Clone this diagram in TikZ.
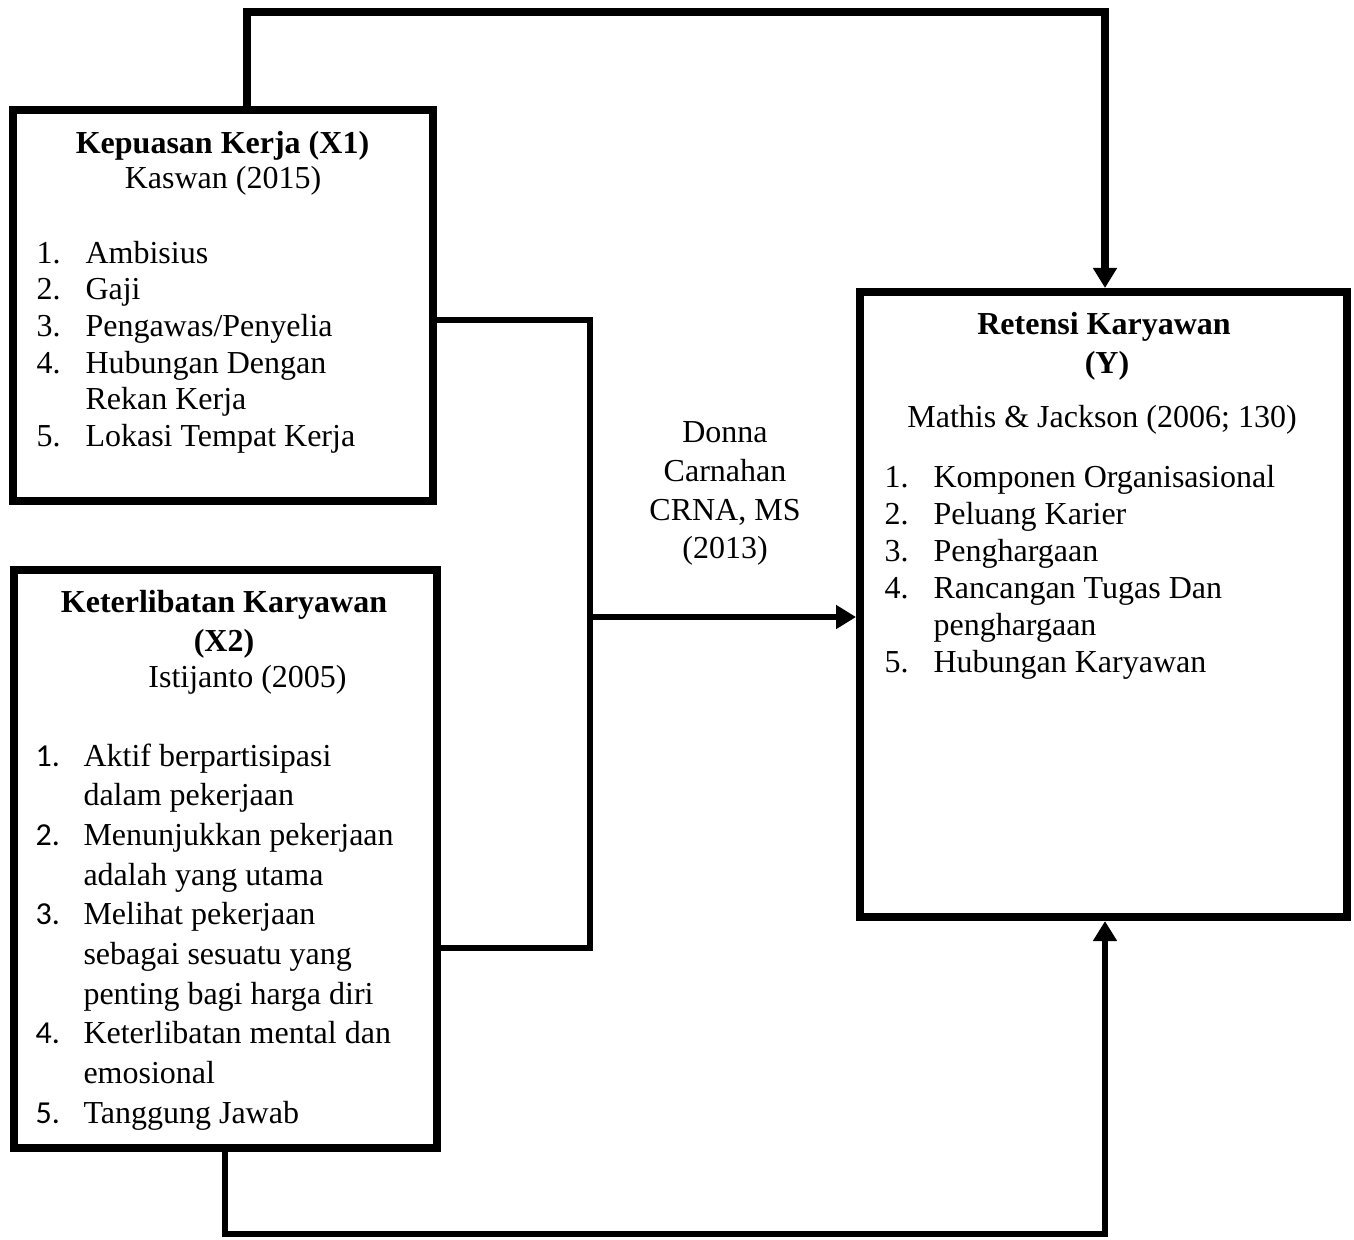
\documentclass[tikz,border=0pt]{standalone}
\usepackage{fontspec}
\setmainfont{Liberation Serif}
\newfontfamily\calibri{Carlito}
\usetikzlibrary{arrows.meta}
\begin{document}
\begin{tikzpicture}[x=0.375pt,y=-0.375pt,
  box/.style={draw, line width=3pt, inner sep=0pt},
  conn/.style={draw, line width=#1, line join=miter},
  tip/.style={-{Triangle[length=7.5pt,width=8.6pt]}},
  t/.style={inner sep=0pt, anchor=base, font=\fontsize{12}{13.8}\selectfont},
  tl/.style={t, anchor=base west},
  tb/.style={t, font=\fontsize{12}{13.8}\selectfont\bfseries},
  nc/.style={tl, font=\fontsize{12}{13.8}\selectfont\calibri}
]
\useasboundingbox[fill=white] (0,0) rectangle (1354,1239);

% boxes
\node[box, minimum width=157.5pt, minimum height=146.6pt] (x1) at (223,305.5) {};
\node[box, minimum width=158.6pt, minimum height=216.75pt] (x2) at (225.5,859) {};
\node[box, minimum width=182.6pt, minimum height=234.4pt] (y) at (1103.5,604.5) {};

% helper coordinates
\coordinate (t1) at (247,12);
\coordinate (t2) at (1105,12);
\coordinate (m1) at (590,320);
\coordinate (m2) at (590,948);
\coordinate (m3) at (590,617);
\coordinate (b1) at (225,1234);
\coordinate (b2) at (1105,1234);

% connectors
\draw[conn=3pt, tip] (x1.north -| t1) -- (t1) -- (t2) -- (y.north -| t2);
\draw[conn=2.6pt] ([xshift=-2pt]x1.east |- m1) -- (m1) -- (m2) -- (x2.east |- m2);
\draw[conn=2.6pt, tip] (m3) -- (y.west |- m3);
\draw[conn=2.4pt, tip] (x2.south -| b1) -- (b1) -- (b2) -- (y.south -| b2);

% X1 text
\node[tb] (x1h) at (222.5,153) {Kepuasan Kerja (X1)};
\node[t] (x1s) at (223,188) {Kaswan (2015)};
\node[tl] (x1n1) at (36,263) {1.};
\node[tl] (x1i1) at (85,263) {Ambisius};
\node[tl] (x1n2) at (36,299.7) {2.};
\node[tl] (x1i2) at (85,299.7) {Gaji};
\node[tl] (x1n3) at (36,336.4) {3.};
\node[tl] (x1i3) at (85,336.4) {Pengawas/Penyelia};
\node[tl] (x1n4) at (36,373.1) {4.};
\node[tl] (x1i4) at (85,373.1) {Hubungan Dengan};
\node[tl] (x1i4b) at (85,409.8) {Rekan Kerja};
\node[tl] (x1n5) at (36,446.5) {5.};
\node[tl] (x1i5) at (85,446.5) {Lokasi Tempat Kerja};

% X2 text
\node[tb] (x2h) at (224,612) {Keterlibatan Karyawan};
\node[tb] (x2h2) at (224,651) {(X2)};
\node[t] (x2s) at (247.5,687) {Istijanto (2005)};
\node[nc] (x2n1) at (35,766) {1.};
\node[tl] (x2a) at (83,766) {Aktif berpartisipasi};
\node[tl] (x2b) at (83,805.7) {dalam pekerjaan};
\node[nc] (x2n2) at (35,845.4) {2.};
\node[tl] (x2c) at (83,845.4) {Menunjukkan pekerjaan};
\node[tl] (x2d) at (83,885.1) {adalah yang utama};
\node[nc] (x2n3) at (35,924.8) {3.};
\node[tl] (x2e) at (83,924.8) {Melihat pekerjaan};
\node[tl] (x2f) at (83,964.5) {sebagai sesuatu yang};
\node[tl] (x2g) at (83,1004.2) {penting bagi harga diri};
\node[nc] (x2n4) at (35,1043.9) {4.};
\node[tl] (x2h3) at (83,1043.9) {Keterlibatan mental dan};
\node[tl] (x2i) at (83,1083.6) {emosional};
\node[nc] (x2n5) at (35,1123.3) {5.};
\node[tl] (x2j) at (83,1123.3) {Tanggung Jawab};

% Y text
\node[tb] (yh) at (1104,334) {Retensi Karyawan};
\node[tb] (yh2) at (1107,373) {(Y)};
\node[t] (ys) at (1102,427) {Mathis \& Jackson (2006; 130)};
\node[tl] (yn1) at (884,487) {1.};
\node[tl] (yi1) at (933,487) {Komponen Organisasional};
\node[tl] (yn2) at (884,524) {2.};
\node[tl] (yi2) at (933,524) {Peluang Karier};
\node[tl] (yn3) at (884,561) {3.};
\node[tl] (yi3) at (933,561) {Penghargaan};
\node[tl] (yn4) at (884,598) {4.};
\node[tl] (yi4) at (933,598) {Rancangan Tugas Dan};
\node[tl] (yi4b) at (933,635) {penghargaan};
\node[tl] (yn5) at (884,672) {5.};
\node[tl] (yi5) at (933,672) {Hubungan Karyawan};

% middle label
\node[t] (l1) at (725,442) {Donna};
\node[t] (l2) at (725,481) {Carnahan};
\node[t] (l3) at (725,520) {CRNA, MS};
\node[t] (l4) at (725,558) {(2013)};
\end{tikzpicture}
\end{document}
